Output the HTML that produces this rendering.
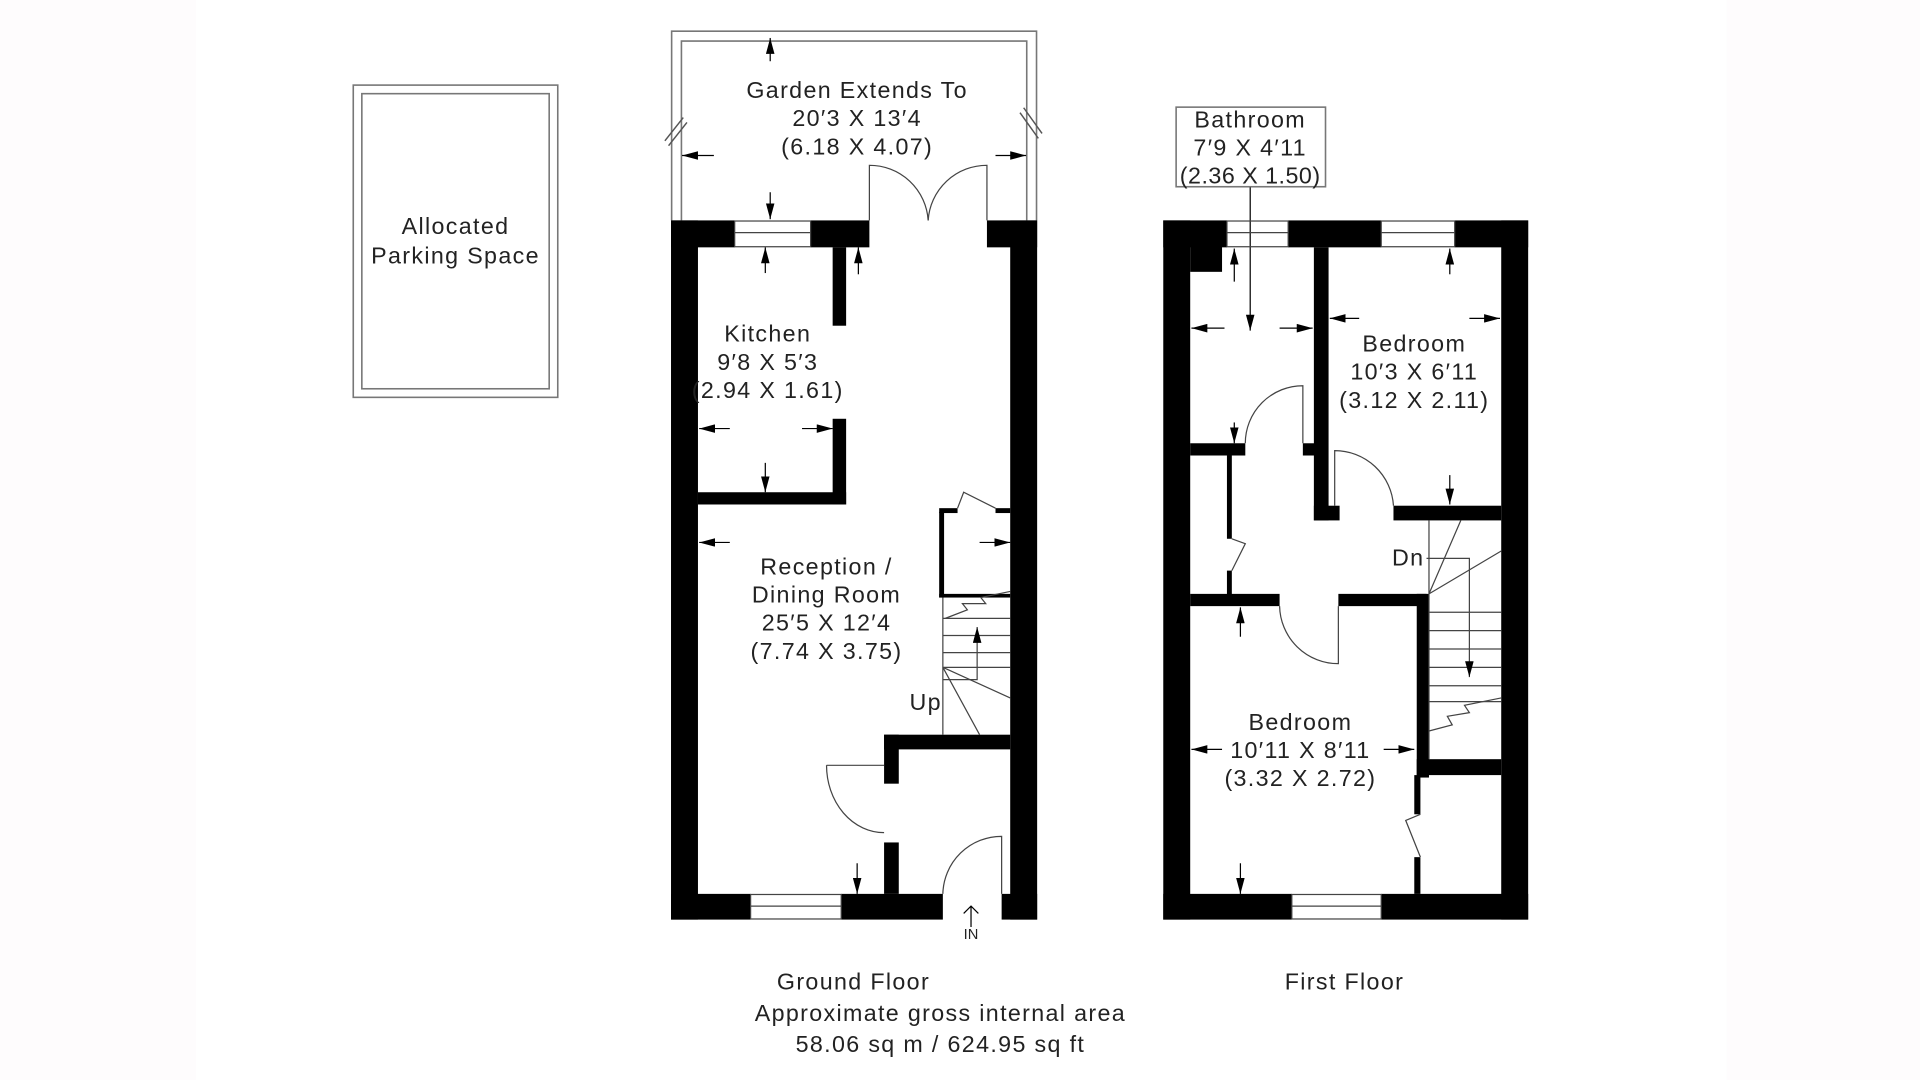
<!DOCTYPE html>
<html><head><meta charset="utf-8"><style>
html,body{margin:0;padding:0;background:#fff;}
svg{display:block}
text{font-family:"Liberation Sans",sans-serif;font-size:19px;letter-spacing:1.1px;fill:#222;text-anchor:middle}
</style></head><body>
<svg width="1920" height="1080" viewBox="0 0 1568 882" xmlns="http://www.w3.org/2000/svg">
<defs>
<marker id="a" viewBox="0 0 10 10" refX="10" refY="5" markerWidth="13" markerHeight="7" orient="auto" markerUnits="userSpaceOnUse" preserveAspectRatio="none"><path d="M0,0 L10,5 L0,10 z" fill="#000"/></marker>
</defs>
<rect x="0" y="0" width="160" height="882" fill="#fefcfd"/>
<rect x="1410" y="0" width="158" height="882" fill="#fefcfd"/>
<g fill="none" stroke="#777" stroke-width="1.3">
<rect x="288.5" y="69.5" width="167" height="255"/>
<rect x="295.5" y="76.5" width="153" height="241"/>
<path d="M548.5,180 V25.5 H846.5 V180"/>
<path d="M556.5,180 V33.5 H838.5 V180"/>
<rect x="960.5" y="87.5" width="122" height="65"/>
</g>
<g stroke="#555" stroke-width="1.2">
<line x1="543" y1="115" x2="558" y2="96"/><line x1="546" y1="119" x2="561" y2="100"/>
<line x1="833" y1="92" x2="848" y2="113"/><line x1="836" y1="88" x2="851" y2="109"/>
</g>
<text x="700" y="80">Garden Extends To</text>
<text x="700" y="103">20′3 X 13′4</text>
<text x="700" y="126">(6.18 X 4.07)</text>
<text x="372" y="191">Allocated</text>
<text x="372" y="215">Parking Space</text>
<text x="1021" y="104">Bathroom</text>
<text x="1021" y="127">7′9 X 4′11</text>
<text x="1021" y="150" style="letter-spacing:0.4px">(2.36 X 1.50)</text>
<g fill="#000">
<rect x="548" y="180" width="22" height="571"/>
<rect x="825" y="180" width="22" height="571"/>
<rect x="548" y="180" width="52" height="22"/>
<rect x="662" y="180" width="48" height="22"/>
<rect x="806" y="180" width="41" height="22"/>
<rect x="548" y="730" width="65" height="21"/>
<rect x="687" y="730" width="83" height="21"/>
<rect x="818" y="730" width="29" height="21"/>
<rect x="680" y="202" width="11" height="64"/>
<rect x="680" y="342" width="11" height="70"/>
<rect x="570" y="402" width="121" height="10"/>
<rect x="722" y="600" width="103" height="12"/>
<rect x="722" y="600" width="12" height="40"/>
<rect x="722" y="688" width="12" height="42"/>
<rect x="767" y="418" width="4" height="70"/>
<rect x="767" y="415" width="15" height="4"/>
<rect x="813" y="415" width="12" height="4"/>
<rect x="767" y="485" width="58" height="3"/>
</g>
<g fill="none" stroke="#444" stroke-width="1">
<rect x="600" y="180.5" width="62" height="21"/><line x1="600" y1="190" x2="662" y2="190"/>
<rect x="613" y="730.5" width="74" height="20"/><line x1="613" y1="740" x2="687" y2="740"/>
<path d="M710,180 V135 A48,48 0 0 1 758,180"/>
<path d="M806,180 V135 A48,48 0 0 0 758,180"/>
<path d="M675,625 H722 M675,625 A47,55 0 0 0 722,680"/>
<path d="M818,730 V683 A48,48 0 0 0 770,730"/>
<path d="M782,415 L787,402 L813,415"/>
<path d="M770,488 V600 M770,505 H825 M770,519 H825 M770,533 H825 M770,545 H825"/>
<path d="M770,545 L800,600 M770,545 L825,570"/>
<path d="M772,505 L790,498 L786,493 L805,493 L801,488 L825,483"/>
<path d="M770,555 H798 V512" marker-end="url(#a)"/>
</g>
<text x="756" y="580">Up</text>
<text x="627" y="279">Kitchen</text>
<text x="627" y="302">9′8 X 5′3</text>
<text x="627" y="325">(2.94 X 1.61)</text>
<text x="675" y="469">Reception /</text>
<text x="675" y="492">Dining Room</text>
<text x="675" y="515">25′5 X 12′4</text>
<text x="675" y="538">(7.74 X 3.75)</text>
<g stroke="#000" stroke-width="1" marker-end="url(#a)">
<line x1="629" y1="50" x2="629" y2="31"/>
<line x1="629" y1="157" x2="629" y2="179"/>
<line x1="583" y1="127" x2="557" y2="127"/>
<line x1="813" y1="127" x2="838" y2="127"/>
<line x1="625" y1="223" x2="625" y2="202"/>
<line x1="701" y1="224" x2="701" y2="202"/>
<line x1="596" y1="350" x2="571" y2="350"/>
<line x1="655" y1="350" x2="680" y2="350"/>
<line x1="625" y1="378" x2="625" y2="402"/>
<line x1="596" y1="443" x2="571" y2="443"/>
<line x1="800" y1="443" x2="825" y2="443"/>
<line x1="700" y1="705" x2="700" y2="730"/>
<line x1="1008" y1="230" x2="1008" y2="203"/>
<line x1="1021" y1="153" x2="1021" y2="270"/>
<line x1="1000" y1="268" x2="973" y2="268"/>
<line x1="1045" y1="268" x2="1072" y2="268"/>
<line x1="1008" y1="345" x2="1008" y2="362"/>
<line x1="1184" y1="224" x2="1184" y2="203"/>
<line x1="1110" y1="260" x2="1086" y2="260"/>
<line x1="1200" y1="260" x2="1225" y2="260"/>
<line x1="1184" y1="388" x2="1184" y2="412"/>
<line x1="1013" y1="520" x2="1013" y2="496"/>
<line x1="998" y1="612" x2="973" y2="612"/>
<line x1="1130" y1="612" x2="1155" y2="612"/>
<line x1="1013" y1="705" x2="1013" y2="730"/>
</g>
<path d="M793,757 V740 M787,746 L793,740 L799,746" stroke="#000" stroke-width="1" fill="none"/>
<text x="793" y="767" style="font-size:12px;letter-spacing:0">IN</text>
<g fill="#000">
<rect x="950" y="180" width="22" height="571"/>
<rect x="1226" y="180" width="22" height="571"/>
<rect x="950" y="180" width="52" height="22"/>
<rect x="1052" y="180" width="76" height="22"/>
<rect x="1188" y="180" width="60" height="22"/>
<rect x="972" y="200" width="26" height="22"/>
<rect x="950" y="730" width="105" height="21"/>
<rect x="1128" y="730" width="120" height="21"/>
<rect x="1073" y="202" width="12" height="223"/>
<rect x="1073" y="413" width="21" height="12"/>
<rect x="1138" y="413" width="88" height="12"/>
<rect x="972" y="362" width="45" height="10"/>
<rect x="1064" y="362" width="10" height="10"/>
<rect x="1002" y="372" width="4" height="68"/>
<rect x="1002" y="466" width="4" height="24"/>
<rect x="972" y="485" width="73" height="10"/>
<rect x="1093" y="485" width="72" height="10"/>
<rect x="1157" y="485" width="10" height="150"/>
<rect x="1157" y="620" width="69" height="13"/>
<rect x="1155" y="633" width="5" height="32"/>
<rect x="1155" y="700" width="5" height="30"/>
</g>
<g fill="none" stroke="#444" stroke-width="1">
<rect x="1002" y="180.5" width="50" height="21"/><line x1="1002" y1="190" x2="1052" y2="190"/>
<rect x="1128" y="180.5" width="60" height="21"/><line x1="1128" y1="190" x2="1188" y2="190"/>
<rect x="1055" y="730.5" width="73" height="20"/><line x1="1055" y1="740" x2="1128" y2="740"/>
<path d="M1017,362 A47,47 0 0 1 1064,315 V362"/>
<path d="M1090,413 V368 A48,48 0 0 1 1138,413"/>
<path d="M1045,495 A48,48 0 0 0 1093,542 V495"/>
<path d="M1006,440 L1017,444 L1006,466"/>
<path d="M1160,665 L1148,670 L1160,700"/>
<path d="M1167,425 V620 M1167,485 L1193,425 M1167,485 L1226,450"/>
<path d="M1167,500 H1226 M1167,515 H1226 M1167,530 H1226 M1167,545 H1226 M1167,560 H1226 M1167,573 H1226"/>
<path d="M1167,597 L1186,592 L1182,585 L1200,582 L1196,576 L1226,570"/>
<path d="M1165,456 H1200 V553" marker-end="url(#a)"/>
</g>
<text x="1150" y="462">Dn</text>
<text x="1155" y="287">Bedroom</text>
<text x="1155" y="310">10′3 X 6′11</text>
<text x="1155" y="333">(3.12 X 2.11)</text>
<text x="1062" y="596">Bedroom</text>
<text x="1062" y="619">10′11 X 8′11</text>
<text x="1062" y="642">(3.32 X 2.72)</text>
<text x="697" y="808">Ground Floor</text>
<text x="1098" y="808">First Floor</text>
<text x="768" y="834">Approximate gross internal area</text>
<text x="768" y="859">58.06 sq m / 624.95 sq ft</text>
</svg>
</body></html>
